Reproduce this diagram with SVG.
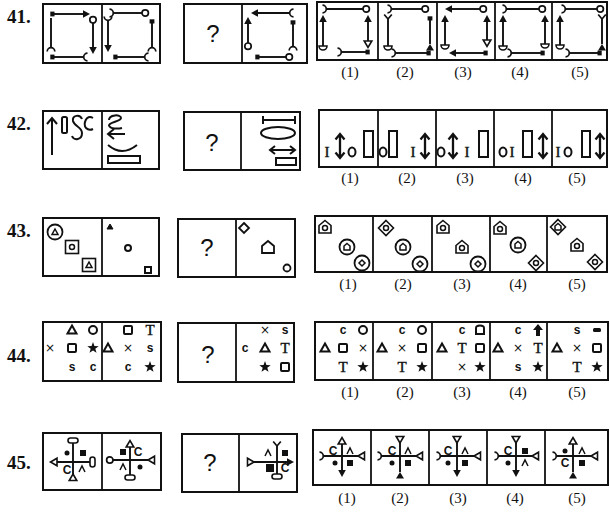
<svg xmlns="http://www.w3.org/2000/svg" xmlns:xlink="http://www.w3.org/1999/xlink" width="610" height="512" viewBox="0 0 610 512">
<style>
.box{fill:none;stroke:#111;stroke-width:2}
.dv{stroke:#111;stroke-width:1.8}
.ln{stroke:#111;stroke-width:1.9;fill:none}
.th{stroke:#111;stroke-width:2;fill:none}
.num{font-family:"Liberation Serif",serif;font-weight:bold;font-size:19px;fill:#111}
.q{font-family:"Liberation Sans",sans-serif;font-size:24px;text-anchor:middle;fill:#111}
.lbl{font-family:"Liberation Serif",serif;font-size:15px;text-anchor:middle;fill:#111}
.let{font-family:"Liberation Sans",sans-serif;font-weight:bold;font-size:12px;text-anchor:middle;fill:#111}
.ser{font-family:"Liberation Serif",serif;font-size:15px;text-anchor:middle;fill:#111;stroke:#111;stroke-width:0.4}
.x{font-family:"DejaVu Sans",sans-serif;font-size:12px;text-anchor:middle;fill:#111}
</style>
<defs>
<marker id="arr" viewBox="-10 -10 20 20" markerWidth="20" markerHeight="20" refX="0" refY="0" markerUnits="userSpaceOnUse" orient="auto-start-reverse" overflow="visible"><path d="M-1,-3.8 L6,0 L-1,3.8 Z" fill="#111"/></marker>
<marker id="circ" viewBox="-10 -10 20 20" markerWidth="20" markerHeight="20" refX="0" refY="0" markerUnits="userSpaceOnUse" orient="auto-start-reverse" overflow="visible"><circle cx="3.2" cy="0" r="3.2" fill="#fff" stroke="#111" stroke-width="1.7"/></marker>
<marker id="sq" viewBox="-10 -10 20 20" markerWidth="20" markerHeight="20" refX="0" refY="0" markerUnits="userSpaceOnUse" orient="auto-start-reverse" overflow="visible"><rect x="-0.5" y="-2.4" width="4.2" height="4.8" fill="#111"/></marker>
<marker id="cup" viewBox="-10 -10 20 20" markerWidth="20" markerHeight="20" refX="0" refY="0" markerUnits="userSpaceOnUse" orient="auto-start-reverse" overflow="visible"><path d="M3.5,-3.8 A3.8,3.8 0 0 0 3.5,3.8" fill="none" stroke="#111" stroke-width="1.7"/></marker>
<marker id="fork" viewBox="-10 -10 20 20" markerWidth="20" markerHeight="20" refX="0" refY="0" markerUnits="userSpaceOnUse" orient="auto-start-reverse" overflow="visible"><path d="M0,0 L4.5,-3.8 M0,0 L4.5,3.8" fill="none" stroke="#111" stroke-width="1.7"/></marker>
<marker id="tri" viewBox="-10 -10 20 20" markerWidth="20" markerHeight="20" refX="0" refY="0" markerUnits="userSpaceOnUse" orient="auto-start-reverse" overflow="visible"><path d="M0,-3.8 L6.5,0 L0,3.8 Z" fill="#fff" stroke="#111" stroke-width="1.6"/></marker>
<marker id="trino" viewBox="-10 -10 20 20" markerWidth="20" markerHeight="20" refX="0" refY="0" markerUnits="userSpaceOnUse" orient="auto-start-reverse" overflow="visible"><path d="M0,0 L6.5,-3.8 L6.5,3.8 Z" fill="#fff" stroke="#111" stroke-width="1.6"/></marker>
<marker id="trin" viewBox="-10 -10 20 20" markerWidth="20" markerHeight="20" refX="0" refY="0" markerUnits="userSpaceOnUse" orient="auto-start-reverse" overflow="visible"><path d="M0,0 L6.5,-4 L6.5,4 Z" fill="#111"/></marker>
<marker id="semi" viewBox="-10 -10 20 20" markerWidth="20" markerHeight="20" refX="0" refY="0" markerUnits="userSpaceOnUse" orient="auto-start-reverse" overflow="visible"><path d="M0,-4 A4,4 0 0 1 0,4 Z" fill="#fff" stroke="#111" stroke-width="1.6"/></marker>
<marker id="oval" viewBox="-10 -10 20 20" markerWidth="20" markerHeight="20" refX="0" refY="0" markerUnits="userSpaceOnUse" orient="auto-start-reverse" overflow="visible"><rect x="0" y="-5" width="5" height="10" rx="2.5" fill="#fff" stroke="#111" stroke-width="1.6"/></marker>
<path id="dva" d="M0,-12 L0,12 M-4.5,-6.5 L0,-12 L4.5,-6.5 M-4.5,6.5 L0,12 L4.5,6.5" fill="none" stroke="#111" stroke-width="2.3"/>
<polygon id="star" points="0,-6 1.41,-1.94 5.71,-1.85 2.28,0.74 3.53,4.85 0,2.4 -3.53,4.85 -2.28,0.74 -5.71,-1.85 -1.41,-1.94" fill="#111"/>
<polygon id="t44" points="0,-4.5 4.5,3.5 -4.5,3.5" fill="none" stroke="#111" stroke-width="2"/>
<rect id="s44" x="-4" y="-4" width="8" height="8" rx="1" fill="none" stroke="#111" stroke-width="2"/>
<circle id="c44" r="4" fill="none" stroke="#111" stroke-width="2"/>
<polygon id="hO" points="0,-6.5 6,-1.5 6,6 -6,6 -6,-1.5" fill="none" stroke="#111" stroke-width="1.6"/>
<polygon id="dO" points="0,-7.5 7.5,0 0,7.5 -7.5,0" fill="none" stroke="#111" stroke-width="1.6"/>
<circle id="cO" r="7.5" fill="none" stroke="#111" stroke-width="1.8"/>
<rect id="sO" x="-6.5" y="-6.5" width="13" height="13" fill="none" stroke="#111" stroke-width="1.6"/>
<circle id="ci" r="2.5" fill="none" stroke="#111" stroke-width="1.5"/>
<polygon id="hi" points="0,-3.5 3,-1 3,3 -3,3 -3,-1" fill="none" stroke="#111" stroke-width="1.5"/>
<polygon id="di" points="0,-3 3,0 0,3 -3,0" fill="none" stroke="#111" stroke-width="1.5"/>
<polygon id="ti" points="0,-3 3,2.5 -3,2.5" fill="none" stroke="#111" stroke-width="1.5"/>
<path id="caret" d="M-3,3 L0,-3 L3,3" fill="none" stroke="#111" stroke-width="1.5"/>
<rect id="bsq" x="-3" y="-3" width="6" height="6" fill="#111"/>
<circle id="dot" r="2.5" fill="#111"/>
</defs>
<rect width="610" height="512" fill="#fff"/>

<g id="numbers">
<text class="num" x="7" y="23">41.</text>
<text class="num" x="7" y="130">42.</text>
<text class="num" x="7" y="237">43.</text>
<text class="num" x="7" y="362">44.</text>
<text class="num" x="7" y="469">45.</text>
</g>

<!-- ===== 41 ===== -->
<g id="q41-problem">
<rect class="box" x="43" y="4" width="117" height="59"/>
<line class="dv" x1="102" y1="4" x2="102" y2="63"/>
<g class="ln">
<line x1="54" y1="14" x2="84" y2="14" marker-start="url(#sq)" marker-end="url(#arr)"/>
<line x1="51" y1="18" x2="51" y2="48" marker-end="url(#cup)"/>
<line x1="54" y1="57" x2="84" y2="57" marker-start="url(#sq)" marker-end="url(#cup)"/>
<line x1="93" y1="23" x2="93" y2="48" marker-start="url(#circ)" marker-end="url(#arr)"/>
<line x1="113" y1="13" x2="142" y2="13" marker-start="url(#cup)" marker-end="url(#circ)"/>
<line x1="108" y1="20" x2="108" y2="46" marker-start="url(#cup)" marker-end="url(#arr)"/>
<line x1="152" y1="23" x2="152" y2="48" marker-start="url(#sq)" marker-end="url(#cup)"/>
<line x1="117" y1="57" x2="145" y2="57" marker-start="url(#sq)" marker-end="url(#cup)"/>
</g>
</g>
<g id="q41-question">
<rect class="box" x="184" y="4" width="123" height="59"/>
<line class="dv" x1="242" y1="4" x2="242" y2="63"/>
<text class="q" x="213" y="42">?</text>
<g class="ln">
<line x1="290" y1="13" x2="257" y2="13" marker-start="url(#cup)" marker-end="url(#arr)"/>
<line x1="248" y1="23" x2="248" y2="43" marker-start="url(#arr)" marker-end="url(#circ)"/>
<line x1="293" y1="24" x2="293" y2="47" marker-start="url(#sq)" marker-end="url(#cup)"/>
<line x1="259" y1="57" x2="286" y2="57" marker-start="url(#sq)" marker-end="url(#circ)"/>
</g>
</g>
<g id="q41-answers">
<rect class="box" x="317" y="2" width="290" height="58"/>
<line class="dv" x1="378" y1="2" x2="378" y2="60"/>
<line class="dv" x1="437" y1="2" x2="437" y2="60"/>
<line class="dv" x1="495" y1="2" x2="495" y2="60"/>
<line class="dv" x1="552" y1="2" x2="552" y2="60"/>
<g class="ln">
<line x1="326" y1="9" x2="363" y2="9" marker-start="url(#cup)" marker-end="url(#circ)"/>
<line x1="323" y1="21" x2="323" y2="46" marker-start="url(#arr)" marker-end="url(#semi)"/>
<line x1="368" y1="21" x2="368" y2="41" marker-start="url(#arr)" marker-end="url(#tri)"/>
<line x1="341" y1="52" x2="366" y2="52" marker-start="url(#cup)" marker-end="url(#sq)"/>

<line x1="391" y1="9" x2="422" y2="9" marker-start="url(#cup)" marker-end="url(#circ)"/>
<line x1="388" y1="19" x2="388" y2="46" marker-start="url(#fork)" marker-end="url(#semi)"/>
<line x1="430" y1="20" x2="430" y2="44" marker-start="url(#sq)" marker-end="url(#trin)"/>
<line x1="395" y1="53" x2="427" y2="53" marker-start="url(#cup)" marker-end="url(#sq)"/>

<line x1="480" y1="9" x2="451" y2="9" marker-start="url(#circ)" marker-end="url(#arr)"/>
<line x1="445" y1="21" x2="445" y2="45" marker-start="url(#arr)" marker-end="url(#semi)"/>
<line x1="487" y1="21" x2="487" y2="40" marker-start="url(#arr)" marker-end="url(#tri)"/>
<line x1="484" y1="53" x2="455" y2="53" marker-start="url(#sq)" marker-end="url(#arr)"/>

<line x1="506" y1="9" x2="539" y2="9" marker-start="url(#cup)" marker-end="url(#circ)"/>
<line x1="503" y1="21" x2="503" y2="46" marker-start="url(#arr)" marker-end="url(#semi)"/>
<line x1="545" y1="21" x2="545" y2="44" marker-start="url(#arr)" marker-end="url(#semi)"/>
<line x1="511" y1="53" x2="541" y2="53" marker-start="url(#cup)" marker-end="url(#sq)"/>

<line x1="565" y1="9" x2="597" y2="9" marker-start="url(#cup)" marker-end="url(#circ)"/>
<line x1="560" y1="21" x2="560" y2="45" marker-start="url(#arr)" marker-end="url(#semi)"/>
<line x1="602" y1="19" x2="602" y2="44" marker-start="url(#fork)" marker-end="url(#trin)"/>
<line x1="569" y1="53" x2="598" y2="53" marker-start="url(#cup)" marker-end="url(#sq)"/>
</g>
<text class="lbl" x="350" y="77">(1)</text>
<text class="lbl" x="405" y="77">(2)</text>
<text class="lbl" x="463" y="77">(3)</text>
<text class="lbl" x="520" y="77">(4)</text>
<text class="lbl" x="580" y="77">(5)</text>
</g>

<!-- ===== 42 ===== -->
<g id="q42-problem">
<rect class="box" x="43" y="111" width="116" height="58"/>
<line class="dv" x1="102" y1="111" x2="102" y2="169"/>
<g class="th">
<path d="M52,155 L52,118 M47,124 L52,118 L57,124"/>
<rect x="62" y="117" width="5" height="16" rx="1.5"/>
<path d="M82,119 C80,114 72,115 73,121 C74,126 82,127 82,133 C82,140 74,141 72,136"/>
<path d="M93,118 C86,114 83,124 86,128 C88,130 91,130 93,129"/>
<path d="M109,120 C109,114.5 121,114 121,118 C121,121.5 109,122 109,125.5 C110,129 118,129 122,128"/>
<path d="M125,134 L108,134 M114,129 L108,134 L114,139"/>
<path d="M108,145 Q122,157 137,145"/>
<rect x="108" y="156" width="32" height="7"/>
</g>
</g>
<g id="q42-question">
<rect class="box" x="184" y="112" width="116" height="58"/>
<line class="dv" x1="241" y1="112" x2="241" y2="170"/>
<text class="q" x="212" y="151">?</text>
<g class="th">
<path d="M263,120 L295,120 M263,116 L263,124 M295,116 L295,124"/>
<ellipse cx="278" cy="133" rx="17" ry="6"/>
<path d="M270,150 L295,150 M275,146 L270,150 L275,154 M290,146 L295,150 L290,154"/>
<rect x="276" y="158" width="20" height="7"/>
</g>
</g>
<g id="q42-answers">
<rect class="box" x="319" y="110" width="288" height="57"/>
<line class="dv" x1="378" y1="110" x2="378" y2="167"/>
<line class="dv" x1="436" y1="110" x2="436" y2="167"/>
<line class="dv" x1="494" y1="110" x2="494" y2="167"/>
<line class="dv" x1="552" y1="110" x2="552" y2="167"/>
<g class="th">
<ellipse cx="352" cy="152" rx="3.5" ry="4.5"/><rect x="364" y="131" width="9" height="26"/>
<ellipse cx="383" cy="152" rx="3.5" ry="4.5"/><rect x="389" y="131" width="8" height="26"/>
<ellipse cx="441" cy="152" rx="3.5" ry="4.5"/><rect x="479" y="131" width="9" height="26"/>
<ellipse cx="503" cy="152" rx="3.5" ry="4.5"/><rect x="523" y="131" width="9" height="26"/>
<ellipse cx="568" cy="152" rx="3.5" ry="4.5"/><rect x="582" y="131" width="8" height="26"/>
</g>
<use href="#dva" x="340" y="146"/>
<use href="#dva" x="425" y="146"/>
<use href="#dva" x="453" y="146"/>
<use href="#dva" x="543" y="146"/>
<use href="#dva" x="600" y="146"/>
<text class="ser" x="327" y="157">I</text>
<text class="ser" x="413" y="157">I</text>
<text class="ser" x="467" y="157">I</text>
<text class="ser" x="512" y="157">I</text>
<text class="ser" x="558" y="157">I</text>
<text class="lbl" x="350" y="183">(1)</text>
<text class="lbl" x="407" y="183">(2)</text>
<text class="lbl" x="465" y="183">(3)</text>
<text class="lbl" x="523" y="183">(4)</text>
<text class="lbl" x="577" y="183">(5)</text>
</g>

<!-- ===== 43 ===== -->
<g id="q43-problem">
<rect class="box" x="43" y="218" width="116" height="58"/>
<line class="dv" x1="102" y1="218" x2="102" y2="276"/>
<use href="#cO" x="55" y="232"/><use href="#ti" x="55" y="232"/>
<use href="#sO" x="72" y="247"/><use href="#ci" x="72" y="247"/>
<use href="#sO" x="89" y="265"/><use href="#ti" x="89" y="265"/>
<polygon points="110,224 113,229 107,229" fill="#111" stroke="#111" stroke-width="1"/>
<circle cx="128" cy="248" r="3" fill="none" stroke="#111" stroke-width="2"/>
<rect x="145" y="267" width="6" height="6" fill="none" stroke="#111" stroke-width="2"/>
</g>
<g id="q43-question">
<rect class="box" x="178" y="219" width="117" height="58"/>
<line class="dv" x1="236" y1="219" x2="236" y2="277"/>
<text class="q" x="207" y="256">?</text>
<polygon points="244,223 249,228 244,233 239,228" fill="none" stroke="#111" stroke-width="1.8"/>
<polygon points="268,241 274,246 274,253 262,253 262,246" fill="none" stroke="#111" stroke-width="1.8"/>
<circle cx="287" cy="268" r="3.5" fill="none" stroke="#111" stroke-width="1.8"/>
</g>
<g id="q43-answers">
<rect class="box" x="315" y="216" width="292" height="56"/>
<line class="dv" x1="373" y1="216" x2="373" y2="272"/>
<line class="dv" x1="432" y1="216" x2="432" y2="272"/>
<line class="dv" x1="490" y1="216" x2="490" y2="272"/>
<line class="dv" x1="547" y1="216" x2="547" y2="272"/>
<use href="#hO" x="325" y="227"/><use href="#ci" x="325" y="228"/>
<use href="#cO" x="347" y="247"/><use href="#hi" x="347" y="247"/>
<use href="#cO" x="362" y="263"/><use href="#di" x="362" y="263"/>
<use href="#dO" x="386" y="228"/><use href="#ci" x="386" y="228"/>
<use href="#cO" x="403" y="247"/><use href="#hi" x="403" y="247"/>
<use href="#cO" x="420" y="264"/><use href="#di" x="420" y="264"/>
<use href="#hO" x="443" y="227"/><use href="#ci" x="443" y="228"/>
<use href="#hO" x="462" y="247"/><use href="#ci" x="462" y="248"/>
<use href="#cO" x="478" y="264"/><use href="#di" x="478" y="264"/>
<use href="#hO" x="500" y="228"/><use href="#ci" x="500" y="229"/>
<use href="#cO" x="518" y="245"/><use href="#hi" x="518" y="245"/>
<use href="#dO" x="536" y="263"/><use href="#ci" x="536" y="263"/>
<use href="#dO" x="558" y="227"/><use href="#hi" x="558" y="227"/>
<use href="#hO" x="577" y="245"/><use href="#ci" x="577" y="246"/>
<use href="#dO" x="595" y="262"/><use href="#ci" x="595" y="262"/>
<text class="lbl" x="348" y="289">(1)</text>
<text class="lbl" x="403" y="289">(2)</text>
<text class="lbl" x="462" y="289">(3)</text>
<text class="lbl" x="518" y="289">(4)</text>
<text class="lbl" x="577" y="289">(5)</text>
</g>

<!-- ===== 44 ===== -->
<g id="q44-problem">
<rect class="box" x="43" y="322" width="118" height="59"/>
<line class="dv" x1="102" y1="322" x2="102" y2="381"/>
<use href="#t44" x="72" y="330"/><use href="#c44" x="93" y="330"/>
<text class="x" x="50" y="352">×</text><use href="#s44" x="72" y="348"/><use href="#star" x="93" y="348"/>
<text class="let" x="72" y="371">s</text><text class="let" x="93" y="371">c</text>
<use href="#s44" x="128" y="330"/><text class="ser" x="150" y="335">T</text>
<use href="#t44" x="108" y="348"/><text class="x" x="128" y="352">×</text><text class="let" x="150" y="352">s</text>
<text class="let" x="128" y="371">c</text><use href="#star" x="150" y="367"/>
</g>
<g id="q44-question">
<rect class="box" x="178" y="323" width="116" height="59"/>
<line class="dv" x1="236" y1="323" x2="236" y2="382"/>
<text class="q" x="208" y="363">?</text>
<text class="x" x="265" y="334">×</text><text class="let" x="285" y="334">s</text>
<text class="let" x="245" y="352">c</text><use href="#t44" x="265" y="348"/><text class="ser" x="285" y="353">T</text>
<use href="#star" x="265" y="367"/><use href="#s44" x="285" y="367"/>
</g>
<g id="q44-answers">
<rect class="box" x="315" y="322" width="293" height="58"/>
<line class="dv" x1="373" y1="322" x2="373" y2="380"/>
<line class="dv" x1="432" y1="322" x2="432" y2="380"/>
<line class="dv" x1="490" y1="322" x2="490" y2="380"/>
<line class="dv" x1="547" y1="322" x2="547" y2="380"/>
<text class="let" x="343" y="334">c</text><use href="#c44" x="363" y="330"/>
<use href="#t44" x="325" y="348"/><use href="#s44" x="343" y="348"/><text class="x" x="363" y="352">×</text>
<text class="ser" x="343" y="372">T</text><use href="#star" x="363" y="367"/>

<text class="let" x="402" y="334">c</text><use href="#c44" x="422" y="330"/>
<use href="#t44" x="382" y="348"/><text class="x" x="402" y="352">×</text><use href="#s44" x="422" y="348"/>
<text class="ser" x="402" y="372">T</text><use href="#star" x="422" y="367"/>

<text class="let" x="462" y="334">c</text><path d="M476,334 L476,328 Q476,325.5 480,325.5 Q484,325.5 484,328 L484,334 Z" fill="none" stroke="#111" stroke-width="2"/>
<use href="#t44" x="442" y="348"/><text class="ser" x="462" y="353">T</text><use href="#s44" x="480" y="348"/>
<text class="x" x="462" y="371">×</text><use href="#star" x="480" y="367"/>

<text class="let" x="518" y="334">c</text><path d="M538,324 L543,330 L540,330 L540,336 L536,336 L536,330 L533,330 Z" fill="#111"/>
<use href="#t44" x="498" y="348"/><text class="x" x="518" y="352">×</text><text class="ser" x="538" y="353">T</text>
<text class="let" x="518" y="371">s</text><use href="#star" x="538" y="367"/>

<text class="let" x="577" y="334">s</text><rect x="593" y="328" width="8" height="4" rx="1.5" fill="#111"/>
<use href="#t44" x="557" y="348"/><text class="x" x="577" y="352">×</text><use href="#s44" x="597" y="348"/>
<text class="ser" x="577" y="372">T</text><use href="#star" x="597" y="367"/>
<text class="lbl" x="350" y="397">(1)</text>
<text class="lbl" x="405" y="397">(2)</text>
<text class="lbl" x="462" y="397">(3)</text>
<text class="lbl" x="518" y="397">(4)</text>
<text class="lbl" x="577" y="397">(5)</text>
</g>

<!-- ===== 45 ===== -->
<g id="q45-problem">
<rect class="box" x="43" y="433" width="118" height="57"/>
<line class="dv" x1="102" y1="433" x2="102" y2="490"/>
<g class="ln">
<line x1="73" y1="443" x2="73" y2="474" marker-start="url(#oval)" marker-end="url(#trino)"/>
<line x1="57" y1="462" x2="90" y2="462" marker-start="url(#tri)" marker-end="url(#oval)"/>
<line x1="130" y1="447" x2="130" y2="475" marker-start="url(#tri)" marker-end="url(#oval)"/>
<line x1="113" y1="460" x2="148" y2="460" marker-start="url(#circ)" marker-end="url(#trino)"/>
</g>
<use href="#dot" x="67" y="453"/><use href="#bsq" x="83" y="453"/>
<text class="let" x="67" y="474">C</text><use href="#caret" x="82" y="469"/>
<use href="#bsq" x="123" y="452"/><text class="let" x="138" y="456">C</text>
<use href="#caret" x="123" y="467"/><use href="#dot" x="140" y="467"/>
</g>
<g id="q45-question">
<rect class="box" x="182" y="434" width="115" height="58"/>
<line class="dv" x1="239" y1="434" x2="239" y2="492"/>
<text class="q" x="210" y="471">?</text>
<g class="ln">
<line x1="277" y1="446" x2="277" y2="474" marker-start="url(#fork)" marker-end="url(#oval)"/>
<line x1="254" y1="462" x2="288" y2="462" marker-start="url(#trino)" marker-end="url(#arr)"/>
</g>
<use href="#caret" x="268" y="453"/><use href="#bsq" x="285" y="453"/>
<rect x="266" y="464" width="8" height="8" fill="#111"/><text class="let" x="285" y="472">C</text>
</g>
<g id="q45-answers">
<rect class="box" x="313" y="430" width="295" height="55"/>
<line class="dv" x1="371" y1="430" x2="371" y2="485"/>
<line class="dv" x1="429" y1="430" x2="429" y2="485"/>
<line class="dv" x1="487" y1="430" x2="487" y2="485"/>
<line class="dv" x1="545" y1="430" x2="545" y2="485"/>
<g class="ln">
<line x1="342" y1="444" x2="342" y2="471" marker-start="url(#tri)" marker-end="url(#arr)"/>
<line x1="323" y1="456" x2="358" y2="456" marker-start="url(#cup)" marker-end="url(#trino)"/>
<line x1="400" y1="443" x2="400" y2="472" marker-start="url(#trino)" marker-end="url(#trin)"/>
<line x1="381" y1="456" x2="416" y2="456" marker-start="url(#cup)" marker-end="url(#trino)"/>
<line x1="457" y1="443" x2="457" y2="471" marker-start="url(#trino)" marker-end="url(#arr)"/>
<line x1="440" y1="456" x2="474" y2="456" marker-start="url(#cup)" marker-end="url(#trino)"/>
<line x1="516" y1="443" x2="516" y2="471" marker-start="url(#trino)" marker-end="url(#arr)"/>
<line x1="498" y1="456" x2="532" y2="456" marker-start="url(#cup)" marker-end="url(#trino)"/>
<line x1="573" y1="444" x2="573" y2="472" marker-start="url(#tri)" marker-end="url(#trin)"/>
<line x1="556" y1="456" x2="591" y2="456" marker-start="url(#cup)" marker-end="url(#trino)"/>
</g>
<text class="let" x="333" y="455">C</text><use href="#caret" x="350" y="451"/><use href="#dot" x="335" y="463"/><use href="#bsq" x="350" y="463"/>
<text class="let" x="392" y="455">C</text><use href="#caret" x="408" y="451"/><use href="#dot" x="392" y="463"/><use href="#bsq" x="408" y="463"/>
<text class="let" x="448" y="455">C</text><use href="#caret" x="465" y="451"/><use href="#dot" x="448" y="463"/><use href="#bsq" x="465" y="463"/>
<text class="let" x="508" y="455">C</text><use href="#bsq" x="525" y="451"/><use href="#dot" x="508" y="463"/><use href="#caret" x="525" y="463"/>
<use href="#dot" x="565" y="451"/><use href="#caret" x="582" y="451"/><text class="let" x="565" y="467">C</text><use href="#bsq" x="582" y="463"/>
<text class="lbl" x="347" y="503">(1)</text>
<text class="lbl" x="400" y="503">(2)</text>
<text class="lbl" x="458" y="503">(3)</text>
<text class="lbl" x="515" y="503">(4)</text>
<text class="lbl" x="577" y="503">(5)</text>
</g>
</svg>
